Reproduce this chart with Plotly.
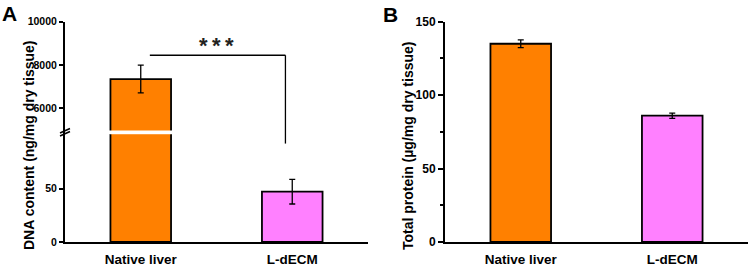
import plotly.graph_objects as go

# ---------------- data ----------------
categories = ["Native liver", "L-dECM"]
dna_mean = [7350, 47]          # ng/mg dry tissue
dna_err = [640, 11.5]
protein_mean = [135, 86]       # µg/mg dry tissue
protein_err = [2.6, 1.8]
bar_colors = ["#FF8000", "#FF80FF"]

dna_low_ticks = [0, 50]
dna_high_ticks = [6000, 8000, 10000]
protein_ticks = [0, 50, 100, 150]

# ---------------- layout helpers ----------------
W, H = 750, 267
FONT = "Arial, Liberation Sans, sans-serif"
BAR_WIDTH = 0.4


def px_x(p):
    return p / W


def px_y(p):
    return 1 - p / H


# axis ranges / domains
low_range = [0, 104.5]
high_range = [4800, 10000]
low_dom = [px_y(242), px_y(130.2)]
high_dom = [px_y(134.3), px_y(21.7)]
xA_dom = [px_x(65), px_x(368)]
xB_dom = [px_x(445), px_x(748)]
yB_dom = [px_y(242), px_y(21.7)]


def to_paper(v, dom, rng):
    return dom[0] + (v - rng[0]) / (rng[1] - rng[0]) * (dom[1] - dom[0])


fig = go.Figure()

bar_common = dict(
    x=categories,
    width=BAR_WIDTH,
    marker=dict(color=bar_colors, line=dict(color="black", width=1.8)),
    showlegend=False,
)
err_style = dict(type="data", color="black", thickness=1.3, width=3)

# Panel A: lower and upper segments of the broken axis
fig.add_trace(go.Bar(y=dna_mean, xaxis="x", yaxis="y",
                     error_y=dict(**err_style, array=dna_err), **bar_common))
fig.add_trace(go.Bar(y=dna_mean, xaxis="x", yaxis="y2",
                     error_y=dict(**err_style, array=dna_err), **bar_common))
# Panel B
fig.add_trace(go.Bar(y=protein_mean, xaxis="x2", yaxis="y3",
                     error_y=dict(**err_style, array=protein_err), **bar_common))

axis_line = dict(showline=True, linecolor="black", linewidth=2, showgrid=False,
                 zeroline=False, mirror=False, automargin=False)

xaxis_common = dict(
    **axis_line,
    type="category",
    range=[-0.5, 1.5],
    ticks="",
    tickfont=dict(family=FONT, size=13.5, color="black", weight="bold"),
    ticklabelstandoff=4,
)

ytick_A = dict(ticks="outside", ticklen=4, tickwidth=2, tickcolor="black",
               tickformat="d", separatethousands=False,
               tickfont=dict(family=FONT, size=10.5, color="black", weight="bold"))

fig.update_layout(
    width=W, height=H, autosize=False,
    margin=dict(l=0, r=0, t=0, b=0, autoexpand=False),
    paper_bgcolor="white", plot_bgcolor="white",
    font=dict(family=FONT, color="black"),
    xaxis=dict(**xaxis_common, domain=xA_dom, anchor="y"),
    yaxis=dict(**axis_line, domain=low_dom, range=low_range, anchor="x",
               tickmode="array", tickvals=dna_low_ticks, **ytick_A),
    yaxis2=dict(**axis_line, domain=high_dom, range=high_range, anchor="x",
                tickmode="array", tickvals=dna_high_ticks, **ytick_A),
    xaxis2=dict(**xaxis_common, domain=xB_dom, anchor="y3"),
    yaxis3=dict(**axis_line, domain=yB_dom, range=[0, 150], anchor="x2",
                tickmode="array", tickvals=protein_ticks,
                ticks="outside", ticklen=5, tickwidth=2, tickcolor="black",
                minor=dict(tickmode="linear", tick0=0, dtick=25, ticks="outside",
                           ticklen=3, tickwidth=1.5, tickcolor="black"),
                tickfont=dict(family=FONT, size=12, color="black", weight="bold")),
)

# white cut through the tall bar at the axis break
fig.add_shape(type="rect", xref="x", yref="paper", layer="above",
              x0=-BAR_WIDTH / 2 - 0.02, x1=BAR_WIDTH / 2 + 0.02,
              y0=high_dom[0] + 0.001, y1=low_dom[1] - 0.001,
              fillcolor="white", line=dict(width=0))

# significance bracket (panel A)
bracket_top = 8450      # in upper-axis units
bracket_drop = 92       # in lower-axis units
bx0, bx1 = 0.06, 0.955
fig.add_shape(type="line", xref="x", yref="y2", x0=bx0, x1=bx1,
              y0=bracket_top, y1=bracket_top, line=dict(color="black", width=1.3))
fig.add_shape(type="line", xref="x", yref="paper", x0=bx1, x1=bx1,
              y0=to_paper(bracket_top, high_dom, high_range),
              y1=to_paper(bracket_drop, low_dom, low_range),
              line=dict(color="black", width=1.3))
fig.add_annotation(text="*\u2009*\u2009*", xref="x", yref="paper", x=0.5, y=px_y(46),
                   xanchor="center", yanchor="middle", showarrow=False,
                   font=dict(family=FONT, size=22, color="#222222", weight="bold"))

# axis break marks
for dy in (0, 3):
    fig.add_shape(type="line", xref="paper", yref="paper",
                  x0=px_x(60), x1=px_x(70),
                  y0=px_y(136 - dy), y1=px_y(131.5 - dy),
                  line=dict(color="black", width=1.6))

# axis titles
fig.add_annotation(text="DNA content (ng/mg dry tissue)", textangle=-90,
                   xref="paper", yref="paper", x=px_x(29), y=px_y(145),
                   xanchor="center", yanchor="middle", showarrow=False,
                   font=dict(family=FONT, size=14, color="black", weight="bold"))
fig.add_annotation(text="Total protein (µg/mg dry tissue)", textangle=-90,
                   xref="paper", yref="paper", x=px_x(408), y=px_y(146),
                   xanchor="center", yanchor="middle", showarrow=False,
                   font=dict(family=FONT, size=14, color="black", weight="bold"))

# panel letters
fig.add_annotation(text="A", xref="paper", yref="paper", x=px_x(0), y=px_y(0),
                   xanchor="left", yanchor="top", showarrow=False,
                   font=dict(family=FONT, size=21, color="black", weight="bold"))
fig.add_annotation(text="B", xref="paper", yref="paper", x=px_x(381), y=px_y(1),
                   xanchor="left", yanchor="top", showarrow=False,
                   font=dict(family=FONT, size=21, color="black", weight="bold"))

fig.write_html("out.html", config={"displayModeBar": False},
               post_script="document.body.style.margin='0';document.body.style.overflow='hidden';")
